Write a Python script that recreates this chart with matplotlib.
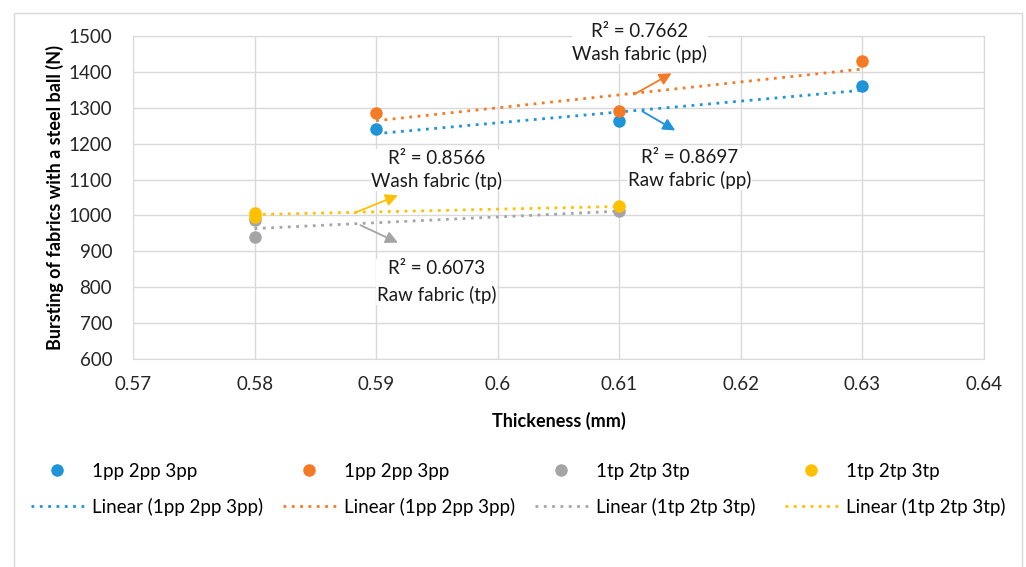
import matplotlib.pyplot as plt
import numpy as np
from matplotlib.patches import Rectangle

plt.rcParams['font.family'] = ['Lato', 'DejaVu Sans']

# data
x_pp = [0.59, 0.61, 0.63]
raw_pp = [1241, 1262, 1362]
wash_pp = [1286, 1292, 1430]
x_tp = [0.58, 0.58, 0.61]
raw_tp = [939, 988, 1012]
wash_tp = [1008, 997, 1025]

labels = ['1pp 2pp 3pp', '1pp 2pp 3pp', '1tp 2tp 3tp', '1tp 2tp 3tp']
colors = ['#1f94d8', '#f57a25', '#a5a5a5', '#ffc000']

W, H = 1026, 567
fig = plt.figure(figsize=(W / 100, H / 100), dpi=100)
ax = fig.add_axes([133 / W, 1 - 359 / H, (984 - 133) / W, (359 - 36) / H])

# outer chart border
fig.patches.append(Rectangle((14 / W, -0.1), 1008 / W, 1 - 13 / H + 0.1,
                             transform=fig.transFigure, fill=False,
                             edgecolor='#d9d9d9', lw=1.0))

series = [(x_pp, raw_pp), (x_pp, wash_pp), (x_tp, raw_tp), (x_tp, wash_tp)]
pts, fits = [], []
for (xs, ys), c, lab in zip(series, colors, labels):
    p, = ax.plot(xs, ys, 'o', color=c, ms=8, label=lab, zorder=4)
    k, b = np.polyfit(xs, ys, 1)
    xx = np.array([min(xs), max(xs)])
    f, = ax.plot(xx, k * xx + b, linestyle=(0, (1, 2)), color=c, lw=2,
                 label='Linear (%s)' % lab, zorder=3)
    pts.append(p)
    fits.append(f)

# R2 annotations with arrows
notes = [
    ('R² = 0.7662\nWash fabric (pp)', (0.6117, 1481), (0.6110, 1333), (0.6145, 1400), colors[1], 1.35),
    ('R² = 0.8697\nRaw fabric (pp)', (0.6158, 1130), (0.6117, 1294), (0.6148, 1233), colors[0], 1.35),
    ('R² = 0.8566\nWash fabric (tp)', (0.5950, 1127), (0.5880, 1004), (0.5920, 1059), colors[3], 1.35),
    ('R² = 0.6073\nRaw fabric (tp)', (0.5950, 815), (0.5885, 976), (0.5920, 921), colors[2], 1.6),
]
for txt, tpos, a0, a1, c, ls in notes:
    ax.text(tpos[0], tpos[1], txt, ha='center', va='center', fontsize=13.5,
            linespacing=ls, color='#1a1a1a', zorder=5,
            bbox=dict(facecolor='white', edgecolor='none', pad=0.5))
    ax.annotate('', xy=a1, xytext=a0,
                arrowprops=dict(arrowstyle='-|>', color=c, lw=1.3,
                                mutation_scale=18), zorder=5)

ax.set_xlim(0.57, 0.64)
ax.set_ylim(600, 1500)
ax.set_xticks(np.arange(0.57, 0.6401, 0.01))
ax.set_xticklabels(['0.57', '0.58', '0.59', '0.6', '0.61', '0.62', '0.63', '0.64'])
ax.set_yticks(range(600, 1501, 100))
ax.grid(True, color='#d9d9d9', lw=1)
ax.set_axisbelow(True)
for s in ax.spines.values():
    s.set_color('#d9d9d9')
ax.tick_params(length=0, labelsize=13.5, colors='#262626')
ax.tick_params(axis='y', pad=15)
ax.tick_params(axis='x', pad=12)

ax.set_xlabel('Thickeness (mm)', fontsize=13, fontweight='bold', labelpad=14)
ax.set_ylabel('Bursting of fabrics with a steel ball (N)', fontsize=13,
              fontweight='bold', labelpad=3)

# legend: one small legend per column, marker row above trend-line row
col_x = [31, 283, 535, 785]
for i in range(4):
    fig.legend([pts[i], fits[i]], [pts[i].get_label(), fits[i].get_label()],
               loc='upper left', bbox_to_anchor=(col_x[i] / W, 1 - 463 / H),
               bbox_transform=fig.transFigure, frameon=False, fontsize=13.5,
               handlelength=2.8, handletextpad=0.43, labelspacing=0.95,
               borderpad=0, borderaxespad=0)

fig.savefig('out.png', dpi=100)
